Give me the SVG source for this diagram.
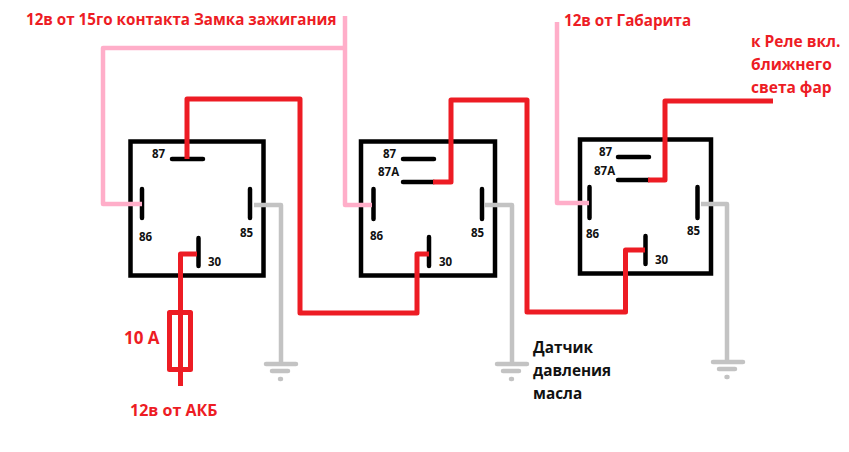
<svg xmlns="http://www.w3.org/2000/svg" width="849" height="452" viewBox="0 0 849 452">
<style>
text{font-family:"Open Sans","Noto Sans","Noto Sans CJK SC",sans-serif;font-weight:700}
.l{font-size:15.200px;fill:#ed1c24}
.m{font-size:15.500px;fill:#ed1c24}
.b{font-size:15.300px;fill:#111}
.p{font-size:11.500px;fill:#111}
.box{fill:none;stroke:#000;stroke-width:4.500}
.pin{fill:none;stroke:#000;stroke-width:4.500;stroke-linecap:round}
.w{fill:none;stroke-linejoin:round}
.red{stroke:#ed1c24;stroke-width:5}
.pink{stroke:#ffaec9;stroke-width:4.500}
.gray{stroke:#c3c3c3;stroke-width:4.500}
.gb{stroke:#c3c3c3;stroke-width:4.500;stroke-linecap:round}
</style>
<rect width="849" height="452" fill="#fff"/>
<g id="relay1">
<rect class="box" x="130.500" y="141.500" width="133" height="134"/>
<path class="pin" d="M172 159H203M142 189V218M250 189V218M198.500 238V266"/>
<text class="p" x="152" y="158">87</text><text class="p" x="139" y="241">86</text><text class="p" x="240" y="237">85</text><text class="p" x="208" y="266">30</text>
</g>
<g id="relay2">
<rect class="box" x="361" y="141.500" width="134" height="134"/>
<path class="pin" d="M403 159H434M403 182H434M373.500 189V219M482 189V219M429 237V266"/>
<text class="p" x="383" y="158">87</text><text class="p" x="378" y="176">87A</text><text class="p" x="370" y="240">86</text><text class="p" x="471" y="237">85</text><text class="p" x="439" y="266">30</text>
</g>
<g id="relay3">
<rect class="box" x="580" y="139.500" width="131" height="134"/>
<path class="pin" d="M618 157H649M618 180H649M589.500 187V218M697.500 187V218M645.500 236V264"/>
<text class="p" x="599" y="156">87</text><text class="p" x="594" y="175">87A</text><text class="p" x="586" y="238">86</text><text class="p" x="687" y="235">85</text><text class="p" x="655" y="264">30</text>
</g>
<g id="fuse"><rect class="w red" x="169.500" y="312.500" width="21" height="57"/></g>
<g id="connectors">
<path class="w pink" d="M345 16V205H372M345 48H103V204H142"/>
<path class="w pink" d="M557 22V203H589"/>
<path class="w gray" d="M254 205H281V364M485 205H512V364M701 204H727V362"/>
<path class="w red" d="M187 159V99H300V313H417V254H429"/>
<path class="w red" d="M433 182H451V100H527V312H625.500V250H645"/>
<path class="w red" d="M648 180H665V101H773"/>
<path class="w red" d="M197 254H180.500V386"/>
</g>
<g id="ground1"><path class="gb" d="M266 364H296M272 371H288M280 379H281"/></g>
<g id="ground2"><path class="gb" d="M497 364H527M503 371H519M511 379H512"/></g>
<g id="ground3"><path class="gb" d="M713 362H743M719 369H735M726.500 377H727.500"/></g>
<text class="l" x="26" y="25">12в от 15го контакта Замка зажигания</text>
<text class="l" x="564" y="26">12в от Габарита</text>
<text class="m" x="751" y="47">к Реле вкл.</text>
<text class="m" x="751" y="70">ближнего</text>
<text class="m" x="751" y="93">света фар</text>
<text class="l" style="font-size:17px" x="124" y="344">10 А</text>
<text class="l" style="font-size:16px" x="130" y="416">12в от АКБ</text>
<text class="b" x="533" y="353">Датчик</text>
<text class="b" x="533" y="376">давления</text>
<text class="b" x="533" y="399">масла</text>
</svg>
